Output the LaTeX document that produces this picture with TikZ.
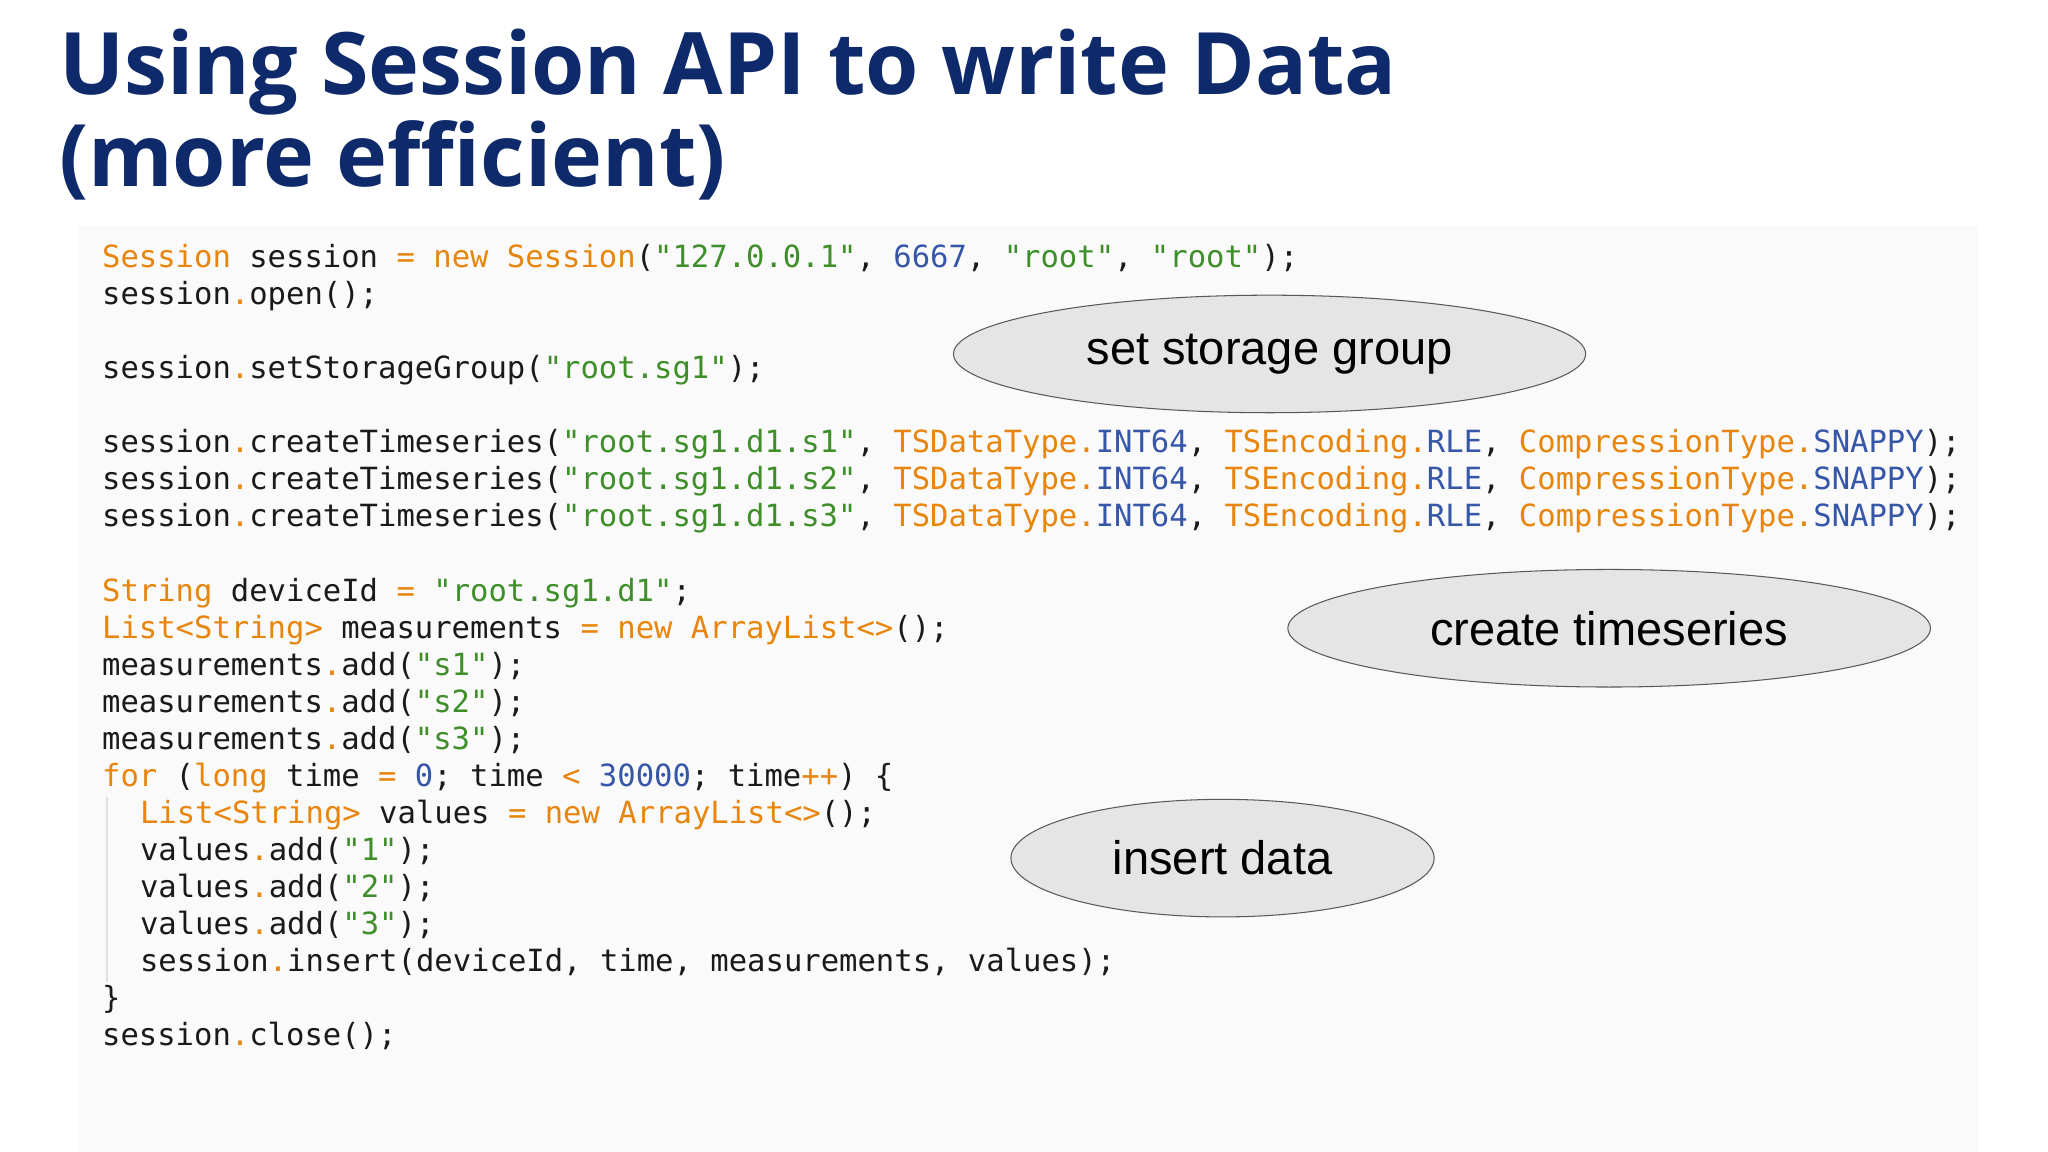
\documentclass[tikz,border=0pt]{standalone}
\usepackage{fontspec}
\setmainfont{Liberation Sans}
\newfontfamily\titlefont{Open Sans}
\setmonofont{DejaVu Sans Mono}
\usetikzlibrary{shapes.geometric}
\definecolor{navy}{HTML}{0F2A6B}
\definecolor{kw}{HTML}{E8850C}
\definecolor{st}{HTML}{3E8E2A}
\definecolor{nm}{HTML}{3656A8}
\definecolor{tx}{HTML}{1A1A1A}
\newcommand\Or[1]{\textcolor{kw}{#1}}
\newcommand\Gr[1]{\textcolor{st}{#1}}
\newcommand\Bl[1]{\textcolor{nm}{#1}}
\tikzset{
  code/.style={anchor=base west,inner sep=0pt,text=tx,font=\ttfamily\fontsize{23.4}{28}\selectfont},
  ttl/.style={anchor=base west,inner sep=0pt,text=navy,font=\titlefont\bfseries\fontsize{66}{70}\selectfont},
  bubble/.style={ellipse,draw=gray!70!black,line width=0.8pt,fill=gray!20,inner sep=0pt,font=\fontsize{36}{40}\selectfont,text=black}
}
\begin{document}
\begin{tikzpicture}[x=1pt,y=-1pt]
\useasboundingbox (0,0) rectangle (1568,882);
\fill[white] (0,0) rectangle (1568,882);
\fill[black!2] (60,172) rectangle (1515,882);
\draw[black!12,line width=1pt] (82,610) -- (82,752);
\node[ttl] (t1) at (45,72) {Using Session API to write Data};
\node[ttl] (t2) at (45,143) {(more efficient)};
\def\L#1{\fpeval{205+28.35*#1}}
\node[code] (c0) at (78,\L{0}) {\Or{Session} session \Or{=} \Or{new} \Or{Session}(\Gr{"127.0.0.1"}, \Bl{6667}, \Gr{"root"}, \Gr{"root"});};
\node[code] (c1) at (78,\L{1}) {session\Or{.}open();};
\node[code] (c3) at (78,\L{3}) {session\Or{.}setStorageGroup(\Gr{"root.sg1"});};
\node[code] (c5) at (78,\L{5}) {session\Or{.}createTimeseries(\Gr{"root.sg1.d1.s1"}, \Or{TSDataType.}\Bl{INT64}, \Or{TSEncoding.}\Bl{RLE}, \Or{CompressionType.}\Bl{SNAPPY});};
\node[code] (c6) at (78,\L{6}) {session\Or{.}createTimeseries(\Gr{"root.sg1.d1.s2"}, \Or{TSDataType.}\Bl{INT64}, \Or{TSEncoding.}\Bl{RLE}, \Or{CompressionType.}\Bl{SNAPPY});};
\node[code] (c7) at (78,\L{7}) {session\Or{.}createTimeseries(\Gr{"root.sg1.d1.s3"}, \Or{TSDataType.}\Bl{INT64}, \Or{TSEncoding.}\Bl{RLE}, \Or{CompressionType.}\Bl{SNAPPY});};
\node[code] (c9) at (78,\L{9}) {\Or{String} deviceId \Or{=} \Gr{"root.sg1.d1"};};
\node[code] (c10) at (78,\L{10}) {\Or{List<String>} measurements \Or{=} \Or{new} \Or{ArrayList<>}();};
\node[code] (c11) at (78,\L{11}) {measurements\Or{.}add(\Gr{"s1"});};
\node[code] (c12) at (78,\L{12}) {measurements\Or{.}add(\Gr{"s2"});};
\node[code] (c13) at (78,\L{13}) {measurements\Or{.}add(\Gr{"s3"});};
\node[code] (c14) at (78,\L{14}) {\Or{for} (\Or{long} time \Or{=} \Bl{0}; time \Or{<} \Bl{30000}; time\Or{++}) \{};
\node[code] (c15) at (107,\L{15}) {\Or{List<String>} values \Or{=} \Or{new} \Or{ArrayList<>}();};
\node[code] (c16) at (107,\L{16}) {values\Or{.}add(\Gr{"1"});};
\node[code] (c17) at (107,\L{17}) {values\Or{.}add(\Gr{"2"});};
\node[code] (c18) at (107,\L{18}) {values\Or{.}add(\Gr{"3"});};
\node[code] (c19) at (107,\L{19}) {session\Or{.}insert(deviceId, time, measurements, values);};
\node[code] (c20) at (78,\L{20}) {\}};
\node[code] (c21) at (78,\L{21}) {session\Or{.}close();};
\node[bubble,minimum width=484,minimum height=90] (e1) at (972,271) {set storage group};
\node[bubble,minimum width=492,minimum height=90] (e2) at (1232,481) {create timeseries};
\node[bubble,minimum width=324,minimum height=90] (e3) at (936,657) {insert data};
\end{tikzpicture}
\end{document}
